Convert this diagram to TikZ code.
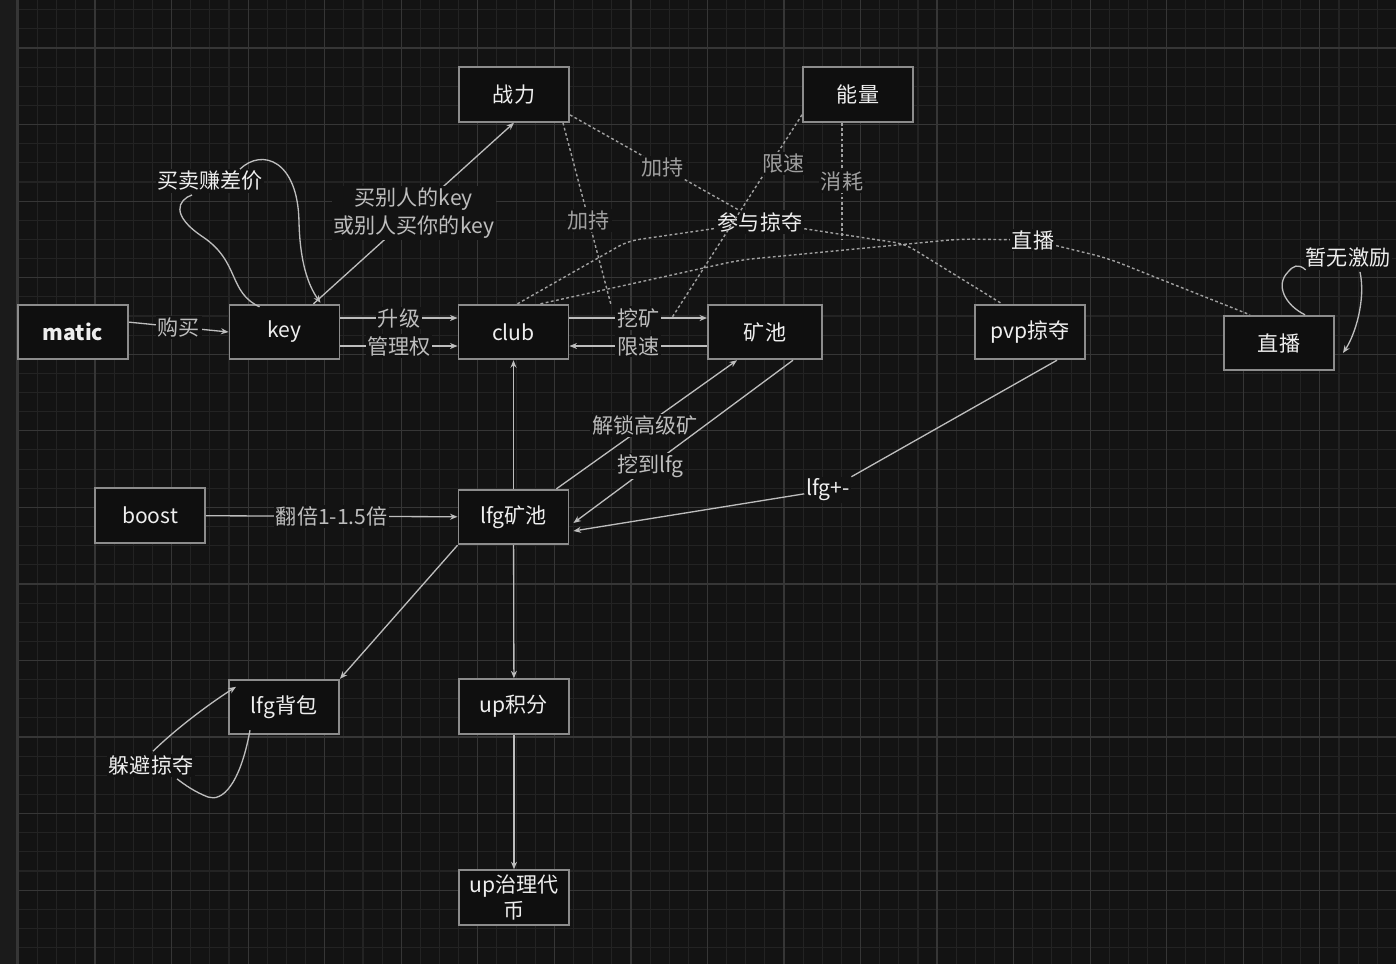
\documentclass[tikz,border=0pt]{standalone}
\usepackage{fontspec}
\setmainfont{Noto Sans CJK SC}
\usepackage{tikz}
\usetikzlibrary{arrows.meta, positioning, calc}
\definecolor{CanvasBg}{HTML}{131313}
\definecolor{StripBg}{HTML}{1B1B1B}
\definecolor{GridMinor}{HTML}{232323}
\definecolor{GridMajor}{HTML}{363636}
\definecolor{BoxLine}{HTML}{8C8C8C}
\definecolor{BoxFill}{HTML}{0F0F0F}
\definecolor{FlowGray}{HTML}{BDBDBD}
\definecolor{DotGray}{HTML}{A0A0A0}
\definecolor{TextWhite}{HTML}{EEEEEE}

\begin{document}
\begin{tikzpicture}[
    x=0.02cm, y=-0.02cm,
    font=\fontsize{12}{15}\selectfont,
    text=TextWhite,
    box/.style={draw=BoxLine, fill=BoxFill, line width=1.1pt, minimum width=2.2cm,
                minimum height=1.09cm, inner sep=2pt, align=center},
    flow/.style={-{Stealth[length=1.5mm, width=1.2mm]}, line width=0.75pt, FlowGray},
    plain/.style={line width=0.75pt, FlowGray},
    dots/.style={line width=0.8pt, DotGray, dash pattern=on 1.6pt off 1.4pt},
    lbl/.style={fill=CanvasBg, inner sep=1pt, align=center},
  ]
  \useasboundingbox (0,0) rectangle (1396,964);
  \fill[CanvasBg] (0,0) rectangle (1396,964);
  \fill[StripBg] (0,0) rectangle (17,964);
  \foreach \i in {0,...,72}
    \draw[GridMinor, line width=0.6pt] ({18.5+19.1375*\i},0) -- ++(0,964);
  \foreach \j in {0,...,50}
    \draw[GridMinor, line width=0.6pt] (17,{9.775+19.1375*\j}) -- ++(1379,0);
  \foreach \i in {0,...,18}
    \draw[GridMajor, line width=0.7pt] ({18.5+76.55*\i},0) -- ++(0,964);
  \foreach \j in {0,...,12}
    \draw[GridMajor, line width=0.7pt] (17,{48.05+76.55*\j}) -- ++(1379,0);
  \draw[GridMajor, line width=0.8pt] (17,0) -- (17,964);

  \node[box] (matic) at (73,332) {\textbf{matic}};
  \node[box] (key) at (284.5,332) {key};
  \node[box] (club) at (513.5,332) {club};
  \node[box, minimum width=2.28cm] (kc) at (765,332) {矿池};
  \node[box] (pvp) at (1030,332) {pvp掠夺};
  \node[box] (zb) at (1279,343) {直播};
  \node[box] (zl) at (514,94.5) {战力};
  \node[box] (nl) at (858,94.5) {能量};
  \node[box] (boost) at (150,515.5) {boost};
  \node[box] (lfgpool) at (513.5,517) {lfg矿池};
  \node[box] (bag) at (284,707) {lfg背包};
  \node[box] (upjf) at (514,706.5) {up积分};
  \node[box] (upgov) at (514,897.5) {up治理代\\币};

  \draw[flow] (matic.10) -- node[lbl] (lbuy) {购买} (key.west);
  \draw[flow] ($(key.east)+(0,-14)$) -- node[lbl] (lup) {升级} ($(club.west)+(0,-14)$);
  \draw[flow] ($(key.east)+(0,14)$) -- node[lbl] (lmgr) {管理权} ($(club.west)+(0,14)$);
  \draw[flow] ($(club.east)+(0,-14)$) -- node[lbl] (lmine) {挖矿} ($(kc.west)+(0,-14)$);
  \draw[flow] ($(kc.west)+(0,14)$) -- node[lbl] (lslow) {限速} ($(club.east)+(0,14)$);
  \draw[flow] (lfgpool) -- (club);
  \draw[flow] (boost) -- node[lbl] (ldbl) {翻倍1-1.5倍} (lfgpool);
  \draw[flow] ($(lfgpool.north east)+(-13,0)$) -- node[lbl, pos=0.49] (lunlock) {解锁高级矿}
        ($(kc.south)+(-28,0)$);
  \draw[flow] ($(kc.south)+(28,0)$) -- node[lbl, pos=0.65] (ldig) {挖到lfg}
        ($(lfgpool.east)+(4,6)$);
  \node[lbl] (lpm) at (828,490) {lfg+-};
  \draw[plain] ($(pvp.south)+(27,0)$) -- (lpm);
  \draw[flow] (lpm) -- ($(lfgpool.east)+(4,14)$);
  \draw[flow] (lfgpool.south west) -- (bag.north east);
  \draw[flow] (lfgpool) -- (upjf);
  \draw[flow] (upjf) -- (upgov);
  \draw[flow] ($(key.north)+(29,0)$) -- node[lbl, font=\fontsize{12}{16}\selectfont] (lbuyk)
        {买别人的key\\或别人买你的key} (zl.south);

  \node[lbl] (lprofit) at (210,181) {买卖赚差价};
  \draw[plain] ($(key.north)+(-25,3)$) .. controls (228,292) and (240,262) .. (203,237)
        .. controls (170,215) and (178,200) .. ($(lprofit.south)+(-18,2)$);
  \draw[flow] ($(lprofit.north)+(30,0)$) .. controls (262,148) and (298,160) .. (299,222)
        .. controls (300,262) and (308,285) .. ($(key.north)+(36,-1)$);

  \node[lbl] (lhide) at (151,765) {躲避掠夺};
  \draw[plain] ($(bag.south)+(-34,-5)$) .. controls (240,785) and (222,802) .. (208,797)
        .. controls (195,792) and (185,785) .. ($(lhide.south)+(26,2)$);
  \draw[flow] ($(lhide.north)+(2,-2)$) .. controls (180,725) and (215,700)
        .. ($(bag.north west)+(8,8)$);

  \node[lbl] (lnone) at (1348,258) {暂无激励};
  \draw[plain] ($(zb.north)+(26,0)$) .. controls (1285,305) and (1275,285) .. (1288,272)
        .. controls (1293,266) and (1298,263) .. ($(lnone.south west)+(2,0)$);
  \draw[flow] ($(lnone.south)+(12,2)$) .. controls (1366,300) and (1355,335)
        .. ($(zb.east)+(8,10)$);

  \node[lbl] (lrob) at (760,222) {参与掠夺};
  \node[lbl] (llive) at (1033,240) {直播};
  \draw[dots, rounded corners=6pt] ($(club.north)+(4,0)$) -- (628,241) -- (lrob);
  \draw[dots, rounded corners=6pt] (lrob) -- (905,244) -- ($(pvp.north)+(-28,0)$);
  \draw[dots, rounded corners=8pt] ($(club.north)+(27,0)$) -- (740,260) -- (960,239) -- (llive);
  \draw[dots, rounded corners=8pt] (llive) -- (1107,258) -- ($(zb.north)+(-29,0)$);
  \draw[dots] (zl.-20) -- node[lbl, pos=0.55] (lboost1) {加持} (lrob);
  \draw[dots] ($(zl.south east)+(-7,0)$) -- node[lbl, pos=0.54] (lboost2) {加持}
        ($(lmine.north west)+(-4,-2)$);
  \draw[dots] ($(nl.south west)+(0,-8)$) -- node[lbl, pos=0.24, xshift=0.26cm] (lslow2) {限速}
        ($(lmine.east)+(10,0)$);
  \draw[dots] ($(nl.south)+(-16,0)$) -- node[lbl] (lcost) {消耗} (842,240);
\end{tikzpicture}
\end{document}
